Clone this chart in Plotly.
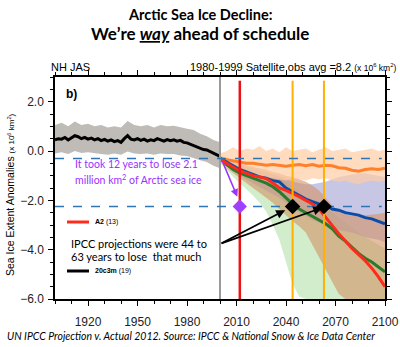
import plotly.graph_objects as go

# ---------------- data ----------------
hist_years = list(range(1900, 2001, 2))
hist_mean = [0.45, 0.50, 0.48, 0.55, 0.45, 0.52, 0.62, 0.58, 0.50, 0.55,
             0.48, 0.52, 0.45, 0.50, 0.42, 0.47, 0.40, 0.45, 0.38, 0.42,
             0.35, 0.50, 0.62, 0.48, 0.45, 0.50, 0.43, 0.48, 0.40, 0.45,
             0.42, 0.50, 0.44, 0.40, 0.46, 0.42, 0.45, 0.40, 0.43, 0.35,
             0.33, 0.28, 0.20, 0.15, 0.10, 0.06, 0.04, -0.02, -0.08, -0.15, -0.22]

band_years = list(range(1900, 2001, 4))
hist_upper = [1.05, 1.15, 1.00, 1.20, 1.05, 1.10, 1.00, 1.05, 0.95, 1.00, 0.95, 1.22, 1.05,
              1.00, 1.05, 0.95, 1.05, 1.00, 1.02, 0.95, 0.90, 0.85, 0.70, 0.60, 0.45, 0.35]
hist_lower = [-0.10, -0.05, -0.12, 0.00, -0.08, -0.05, -0.10, -0.12, -0.15, -0.10, -0.15, -0.02, -0.10,
              -0.12, -0.10, -0.15, -0.10, -0.12, -0.12, -0.18, -0.20, -0.30, -0.38, -0.45, -0.60, -0.70]

proj_years = list(range(2000, 2101, 4))
orange_mean = [-0.30, -0.35, -0.40, -0.45, -0.50, -0.50, -0.55, -0.58, -0.55, -0.60, -0.62, -0.58, -0.55,
               -0.60, -0.55, -0.62, -0.58, -0.60, -0.68, -0.70, -0.78, -0.82, -0.75, -0.72, -0.75, -0.70]
orange_upper = [-0.10, 0.00, 0.15, 0.00, 0.10, 0.05, 0.20, 0.00, 0.10, -0.05, 0.15, 0.00, 0.05,
                0.10, -0.05, 0.05, 0.15, 0.00, 0.05, 0.10, -0.05, 0.00, 0.05, 0.10, 0.00, 0.05]
orange_lower = [-0.50, -0.70, -0.80, -0.95, -1.00, -1.05, -1.10, -1.15, -1.10, -1.15, -1.20, -1.10, -1.15,
                -1.20, -1.10, -1.15, -1.10, -1.20, -1.25, -1.20, -1.30, -1.35, -1.25, -1.20, -1.25, -1.20]
blue_mean = [-0.30, -0.45, -0.60, -0.75, -0.85, -0.95, -1.05, -1.10, -1.20, -1.25, -1.50, -1.65, -1.80,
             -1.95, -2.05, -2.15, -2.20, -2.35, -2.40, -2.50, -2.55, -2.60, -2.70, -2.75, -2.85, -2.95]
blue_upper = [-0.20, -0.35, -0.45, -0.55, -0.65, -0.75, -0.80, -0.85, -0.95, -1.00, -1.15, -1.25, -1.30,
              -1.35, -1.35, -1.30, -1.25, -1.15, -1.05, -1.00, -0.95, -0.90, -0.90, -0.95, -1.00, -1.05]
blue_lower = [-0.45, -0.60, -0.80, -1.00, -1.15, -1.30, -1.45, -1.60, -1.75, -1.90, -2.10, -2.30, -2.50,
              -2.65, -2.80, -2.90, -3.00, -3.10, -3.20, -3.25, -3.30, -3.40, -3.50, -3.55, -3.60, -3.70]
green_mean = [-0.30, -0.55, -0.75, -0.90, -1.00, -1.10, -1.20, -1.30, -1.45, -1.65, -1.90, -2.15, -2.35,
              -2.50, -2.65, -2.80, -2.95, -3.15, -3.45, -3.65, -3.90, -4.15, -4.35, -4.50, -4.70, -4.90]
green_upper = [-0.15, -0.30, -0.40, -0.50, -0.60, -0.65, -0.75, -0.85, -0.95, -1.10, -1.25, -1.45, -1.65,
               -1.85, -2.00, -2.15, -2.30, -2.50, -2.70, -2.90, -3.10, -3.30, -3.50, -3.65, -3.80, -3.95]
green_lower = [-0.45, -0.75, -1.05, -1.30, -1.55, -1.80, -2.10, -2.45, -3.00, -3.60, -4.50, -5.40, -5.90,
               -6.00, -6.00, -6.00, -6.00, -6.00, -6.00, -6.00, -6.00, -6.00, -6.00, -6.00, -6.00, -6.00]
red_mean = [-0.30, -0.50, -0.65, -0.80, -0.90, -1.00, -1.05, -1.12, -1.30, -1.50, -1.60, -1.72, -1.85,
            -2.00, -2.15, -2.35, -2.70, -3.00, -3.35, -3.65, -3.95, -4.20, -4.45, -4.75, -5.10, -5.50]
red_upper = [-0.20, -0.30, -0.40, -0.50, -0.60, -0.65, -0.70, -0.75, -0.85, -0.90, -1.00, -1.05, -1.15,
             -1.25, -1.40, -1.60, -1.90, -2.20, -2.45, -2.55, -2.60, -2.62, -2.60, -2.58, -2.55, -2.50]
red_lower = [-0.45, -0.70, -0.90, -1.10, -1.30, -1.50, -1.70, -1.90, -2.10, -2.35, -2.60, -2.85, -3.05,
             -3.30, -3.80, -4.30, -4.80, -5.30, -5.80, -6.00, -6.00, -6.00, -6.00, -6.00, -6.00, -6.00]

event_years = [2000, 2012, 2044, 2063]      # gray, red, orange, orange verticals
level_lines = [-0.30, -2.25]                # blue dashed levels
actual_point = (2012, -2.25)
ipcc_points_x = [2044, 2063]
ipcc_points_y = [-2.25, -2.25]

x_ticks = [1920, 1950, 1980, 2010, 2040, 2070, 2100]
y_ticks = [-6, -4, -2, 0, 2]

# ---------------- layout helpers ----------------
W, H = 400, 347
L, R, T, B = 55, 15, 77, 48
PW, PH = W - L - R, H - T - B


def px(x):
    return (x - L) / PW


def py(y):
    return (H - B - y) / PH


def band(xs, up, lo, color, name):
    return go.Scatter(x=xs + xs[::-1], y=up + lo[::-1], fill='toself', fillcolor=color,
                      line=dict(width=0), mode='lines', hoverinfo='skip', showlegend=False, name=name)


def vline(x, y0, y1, color, width, dash='solid'):
    fig.add_trace(go.Scatter(x=[x, x], y=[y0, y1], mode='lines', hoverinfo='skip', showlegend=False,
                             line=dict(color=color, width=width, dash=dash)))


def hline(y, x0, x1, color, width, dash='solid'):
    fig.add_trace(go.Scatter(x=[x0, x1], y=[y, y], mode='lines', hoverinfo='skip', showlegend=False,
                             line=dict(color=color, width=width, dash=dash)))


fig = go.Figure()
fig.add_trace(band(band_years, hist_upper, hist_lower, 'rgba(180,175,170,0.85)', 'hist'))
fig.add_trace(band(proj_years, green_upper, green_lower, 'rgba(185,228,175,0.65)', 'green band'))
fig.add_trace(band(proj_years, blue_upper, blue_lower, 'rgba(175,175,218,0.7)', 'blue band'))
fig.add_trace(band(proj_years, red_upper, red_lower, 'rgba(210,145,100,0.6)', 'red band'))
fig.add_trace(band(proj_years, orange_upper, orange_lower, 'rgba(255,205,165,0.7)', 'orange band'))

line_w = 3
fig.add_trace(go.Scatter(x=hist_years, y=hist_mean, mode='lines', line=dict(color='black', width=line_w), showlegend=False))
fig.add_trace(go.Scatter(x=proj_years, y=orange_mean, mode='lines', line=dict(color='#FF7F2A', width=line_w), showlegend=False))
fig.add_trace(go.Scatter(x=proj_years, y=blue_mean, mode='lines', line=dict(color='#0A4DA8', width=line_w), showlegend=False))
fig.add_trace(go.Scatter(x=proj_years, y=green_mean, mode='lines', line=dict(color='#2B7A2B', width=line_w), showlegend=False))
fig.add_trace(go.Scatter(x=proj_years, y=red_mean, mode='lines', line=dict(color='#FF2A1A', width=line_w), showlegend=False))

# vertical and dashed reference lines
vline(event_years[0], -6, 3, '#9A9A9A', 2)
vline(event_years[1], -6, 2.85, '#EE1111', 2.5)
for yr in event_years[2:]:
    vline(yr, -6, 2.85, '#FFB000', 2)
for lv in level_lines:
    hline(lv, 1900, 2098, '#2E75B6', 1.5, 'dash')

# diamonds
fig.add_trace(go.Scatter(x=[actual_point[0]], y=[actual_point[1]], mode='markers',
                         marker=dict(symbol='diamond', size=11, color='#A040FF'), showlegend=False))
fig.add_trace(go.Scatter(x=ipcc_points_x, y=ipcc_points_y, mode='markers',
                         marker=dict(symbol='diamond', size=12, color='black'), showlegend=False))

# arrows
fig.add_annotation(x=2010.5, y=-1.85, ax=2001, ay=-0.35, xref='x', yref='y', axref='x', ayref='y',
                   text='', showarrow=True, arrowhead=2, arrowsize=1, arrowwidth=1.5, arrowcolor='#9933FF')
fig.add_annotation(x=2039.5, y=-2.4, ax=2000, ay=-3.77, xref='x', yref='y', axref='x', ayref='y',
                   text='', showarrow=True, arrowhead=2, arrowsize=1, arrowwidth=1.8, arrowcolor='black')
fig.add_annotation(x=2062, y=-2.3, ax=2000, ay=-3.77, xref='x', yref='y', axref='x', ayref='y',
                   text='', showarrow=True, arrowhead=2, arrowsize=1, arrowwidth=1.8, arrowcolor='black')

HUM = 'Lato'
ARIAL = 'Liberation Sans'


def text(x, y, s, size, family, color='black', xanchor='left', angle=0):
    fig.add_annotation(x=px(x), y=py(y), xref='paper', yref='paper', text=s, showarrow=False,
                       xanchor=xanchor, yanchor='middle', textangle=angle,
                       font=dict(family=family, size=size, color=color))


# titles
text(200, 15, '<b>Arctic Sea Ice Decline:</b>', 14.5, HUM, xanchor='center')
text(200, 34, '<b>We’re <i><u>way</u></i> ahead of schedule</b>', 17, HUM, xanchor='center')
text(49, 67, 'NH JAS', 11, ARIAL)
text(398, 67, '1980-1999 Satellite obs avg =8.2 <span style="font-size:8.5px">(x 10<sup>6</sup> km<sup>2</sup>)</span>',
     11, ARIAL, xanchor='right')
text(64, 94, '<b>b)</b>', 12, ARIAL)
text(10, 195, 'Sea Ice Extent Anomalies <span style="font-size:8px">(x 10<sup>6</sup> km<sup>2</sup>)</span>',
     10.5, ARIAL, angle=-90, xanchor='center')

text(73, 164, 'It took 12 years to lose 2.1', 10.5, HUM, color='#9933FF')
text(73, 179, 'million km<sup>2</sup> of Arctic sea ice', 10.5, HUM, color='#9933FF')
text(69, 243, 'IPCC projections were 44 to', 11, HUM)
text(69, 256, '63 years to lose  that much', 11, HUM)

# legend-like entries
fig.add_shape(type='line', x0=px(67), x1=px(89), y0=py(222), y1=py(222), xref='paper', yref='paper',
              line=dict(color='#FF2A1A', width=3))
text(93, 222, '<b>A2</b> (13)', 7, ARIAL)
fig.add_shape(type='line', x0=px(67), x1=px(89), y0=py(271), y1=py(271), xref='paper', yref='paper',
              line=dict(color='black', width=3))
text(93, 271, '<b>20c3m</b> (19)', 7, ARIAL)

text(5, 336, '<i>UN IPCC Projection v. Actual 2012. Source: IPCC &amp; National Snow &amp; Ice Data Center</i>',
     10.5, HUM)

axis_common = dict(showline=True, linecolor='black', linewidth=1.5, mirror='ticks', ticks='outside',
                   ticklen=5, tickwidth=1.2, tickcolor='black', showgrid=False, zeroline=False,
                   tickfont=dict(family=ARIAL, size=12, color='#222'))
fig.update_xaxes(range=[1900, 2100], tickvals=x_ticks, ticklabelstandoff=6,
                 minor=dict(dtick=10, tick0=1900, ticklen=3, ticks='outside', tickcolor='black', showgrid=False),
                 **axis_common)
fig.update_yaxes(range=[-6, 3], tickvals=y_ticks, tickformat='.1f', ticklabelstandoff=2,
                 minor=dict(dtick=0.5, tick0=0, ticklen=3, ticks='outside', tickcolor='black', showgrid=False),
                 **axis_common)

fig.update_layout(width=W, height=H, margin=dict(l=L, r=R, t=T, b=B, autoexpand=False),
                  plot_bgcolor='white', paper_bgcolor='white', showlegend=False)

fig.write_html('out.html')
